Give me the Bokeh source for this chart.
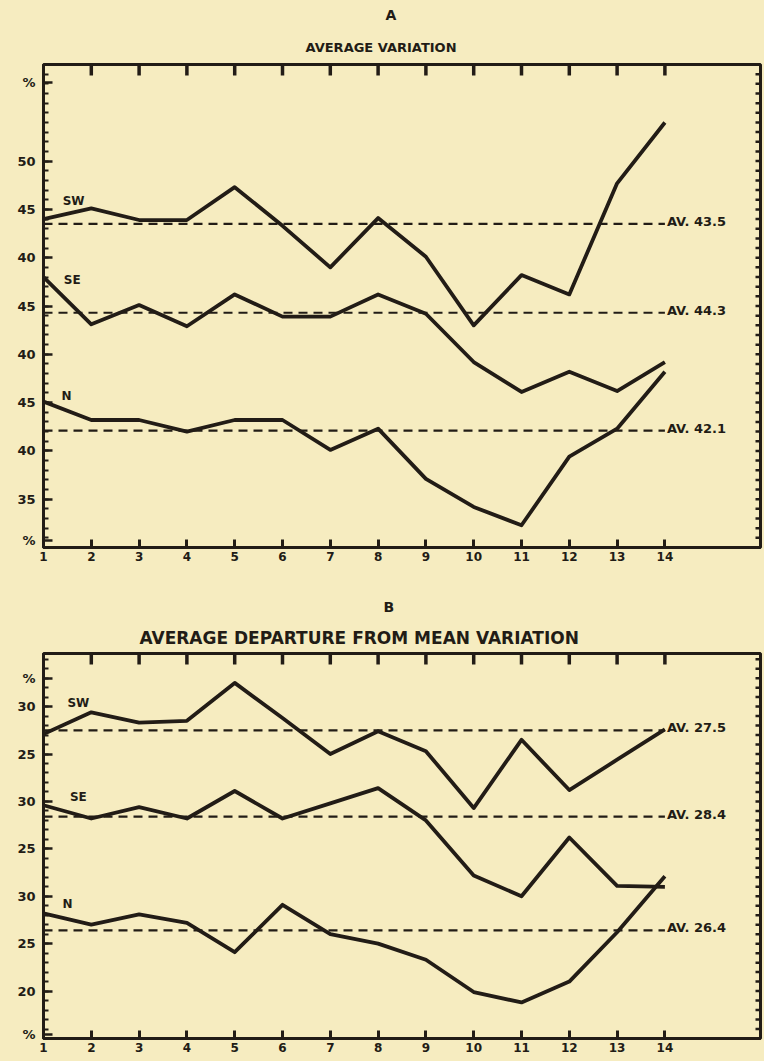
import math
from bokeh.plotting import figure
from bokeh.layouts import column
from bokeh.models import Range1d, LinearAxis, FixedTicker, Title
from bokeh.core.properties import value
from bokeh.embed import file_html
from bokeh.resources import INLINE

# ---------------- data ----------------
MONTHS = list(range(1, 15))
SERIES = ["SW", "SE", "N"]

# Panel A: average variation (%)
A_SW = [44, 45.1, 43.9, 43.9, 47.3, 43.3, 39.0, 44.1, 40.1, 33.0, 38.2, 36.2, 47.7, 54.0]
A_SE = [48.0, 43.1, 45.1, 42.9, 46.2, 43.9, 43.9, 46.2, 44.2, 39.2, 36.1, 38.2, 36.2, 39.2]
A_N = [45.1, 43.2, 43.2, 42.0, 43.2, 43.2, 40.1, 42.3, 37.1, 34.2, 32.3, 39.4, 42.3, 48.2]
A_AV = [43.5, 44.3, 42.1]
A_TICK_LABELS = [[50, 45, 40], [45, 40], [45, 40, 35]]

# Panel B: average departure from mean variation (%)
B_SW = [27.1, 29.4, 28.3, 28.5, 32.5, 28.8, 25.0, 27.4, 25.3, 19.3, 26.5, 21.2, 24.4, 27.6]
B_SE = [29.6, 28.2, 29.4, 28.2, 31.1, 28.2, 29.8, 31.4, 28.0, 22.2, 20.0, 26.2, 21.1, 21.0]
B_N = [28.2, 27.0, 28.1, 27.2, 24.1, 29.1, 26.0, 25.0, 23.3, 19.9, 18.8, 21.0, 26.2, 32.1]
B_AV = [27.5, 28.4, 26.4]
B_TICK_LABELS = [[30, 25], [30, 25], [30, 25, 20]]

# vertical shift of each curve's own scale on the shared chart
OFFSETS = [0, -10, -20]

# ---------------- style ----------------
BG = "#f6ecc0"
INK = "#221c16"
FONT = "DejaVu Sans"
XMAX = 16.0


def make_panel(letter, subtitle, series_vals, avs, tick_labels, yr, pct_pos,
               height, border_top, border_bottom, label_pos,
               sub_size, sub_standoff, sub_offset, letter_standoff, letter_offset):
    p = figure(width=764, height=height, x_range=Range1d(MONTHS[0], XMAX),
               y_range=Range1d(*yr), output_backend="svg", toolbar_location=None,
               x_axis_location=None, y_axis_location=None,
               min_border_left=43, min_border_right=4,
               min_border_top=border_top, min_border_bottom=border_bottom)
    p.background_fill_color = BG
    p.border_fill_color = BG
    p.outline_line_color = INK
    p.outline_line_width = 3
    p.xgrid.visible = False
    p.ygrid.visible = False

    # left axis with segmented scale
    major = []
    overrides = {}
    for labs, off in zip(tick_labels, OFFSETS):
        for t in labs:
            major.append(t + off)
            overrides[t + off] = str(t)
    for pp in pct_pos:
        major.append(pp)
        overrides[pp] = "%"
    minor = list(range(int(math.ceil(yr[0])), int(math.floor(yr[1])) + 1))
    left = LinearAxis(ticker=FixedTicker(ticks=major, minor_ticks=minor),
                      major_label_overrides=overrides)
    left.major_tick_in = 9
    left.major_tick_out = 0
    left.minor_tick_in = 5
    left.minor_tick_out = 0
    left.axis_line_width = 3
    left.axis_line_color = INK
    left.major_tick_line_width = 2.5
    left.minor_tick_line_width = 2
    left.major_tick_line_color = INK
    left.minor_tick_line_color = INK
    left.major_label_standoff = 8
    left.major_label_text_font = FONT
    left.major_label_text_font_style = "bold"
    left.major_label_text_font_size = "13px"
    left.major_label_text_color = INK
    p.add_layout(left, "left")

    # bottom axis with month numbers
    bottom = LinearAxis(ticker=FixedTicker(ticks=MONTHS, minor_ticks=[]))
    bottom.major_tick_in = 8
    bottom.major_tick_out = 0
    bottom.minor_tick_in = 0
    bottom.minor_tick_out = 0
    bottom.axis_line_width = 3
    bottom.axis_line_color = INK
    bottom.major_tick_line_width = 3
    bottom.major_tick_line_color = INK
    bottom.major_label_standoff = 4
    bottom.major_label_text_font = FONT
    bottom.major_label_text_font_style = "bold"
    bottom.major_label_text_font_size = "12px"
    bottom.major_label_text_color = INK
    p.add_layout(bottom, "below")

    # inward tick marks on the top and right borders (half of each dash is clipped by the frame)
    p.scatter(x=MONTHS[1:], y=[yr[1]] * len(MONTHS[1:]), marker="dash", angle=math.pi / 2,
              size=22, line_color=INK, line_width=3.5)
    p.scatter(x=[XMAX] * len(minor), y=minor, marker="dash", size=10,
              line_color=INK, line_width=2.5)

    p.add_layout(Title(text=subtitle, align="left", offset=sub_offset, text_font=FONT,
                       text_font_style="bold", text_font_size=sub_size, text_color=INK,
                       standoff=sub_standoff), "above")
    p.add_layout(Title(text=letter, align="left", offset=letter_offset, text_font=FONT,
                       text_font_style="bold", text_font_size="14px", text_color=INK,
                       standoff=letter_standoff), "above")

    for name, vals, av, off, (dx, dy) in zip(SERIES, series_vals, avs, OFFSETS, label_pos):
        shifted = [v + off for v in vals]
        p.line(MONTHS, shifted, line_color=INK, line_width=3.8, line_join="round")
        p.line([MONTHS[0], MONTHS[-1]], [av + off, av + off], line_color=INK,
               line_width=2.2, line_dash="9 6")
        p.text(x=[MONTHS[-1]], y=[av + off], text=["AV. %.1f" % av], text_align="left",
               text_baseline="bottom", x_offset=2, y_offset=5, text_color=INK,
               text_font=value(FONT), text_font_style="bold", text_font_size="13px")
        p.text(x=[MONTHS[0] + dx], y=[vals[0] + off + dy], text=[name], text_align="center",
               text_baseline="middle", text_color=INK, text_font=value(FONT),
               text_font_style="bold", text_font_size="12px")
    return p


pA = make_panel("A", "AVERAGE VARIATION", [A_SW, A_SE, A_N], A_AV, A_TICK_LABELS,
                (10, 60), [58.1, 10.7], 590, 64, 43,
                [(0.63, 1.9), (0.6, -0.3), (0.48, 0.6)], "13px", 20, 262, 9, 342)
pB = make_panel("B", "AVERAGE DEPARTURE FROM MEAN VARIATION", [B_SW, B_SE, B_N], B_AV,
                B_TICK_LABELS, (-5, 35.6), [33.0, -4.6], 471, 63, 23,
                [(0.73, 3.3), (0.73, 0.9), (0.5, 1.0)], "17px", 11, 96, 12, 340)

layout = column(pA, pB, spacing=0)
html = file_html(layout, INLINE, title="Average variation")
html = html.replace("</head>", "<style>body{background:%s;}</style></head>" % BG, 1)
open("out.html", "w").write(html)
